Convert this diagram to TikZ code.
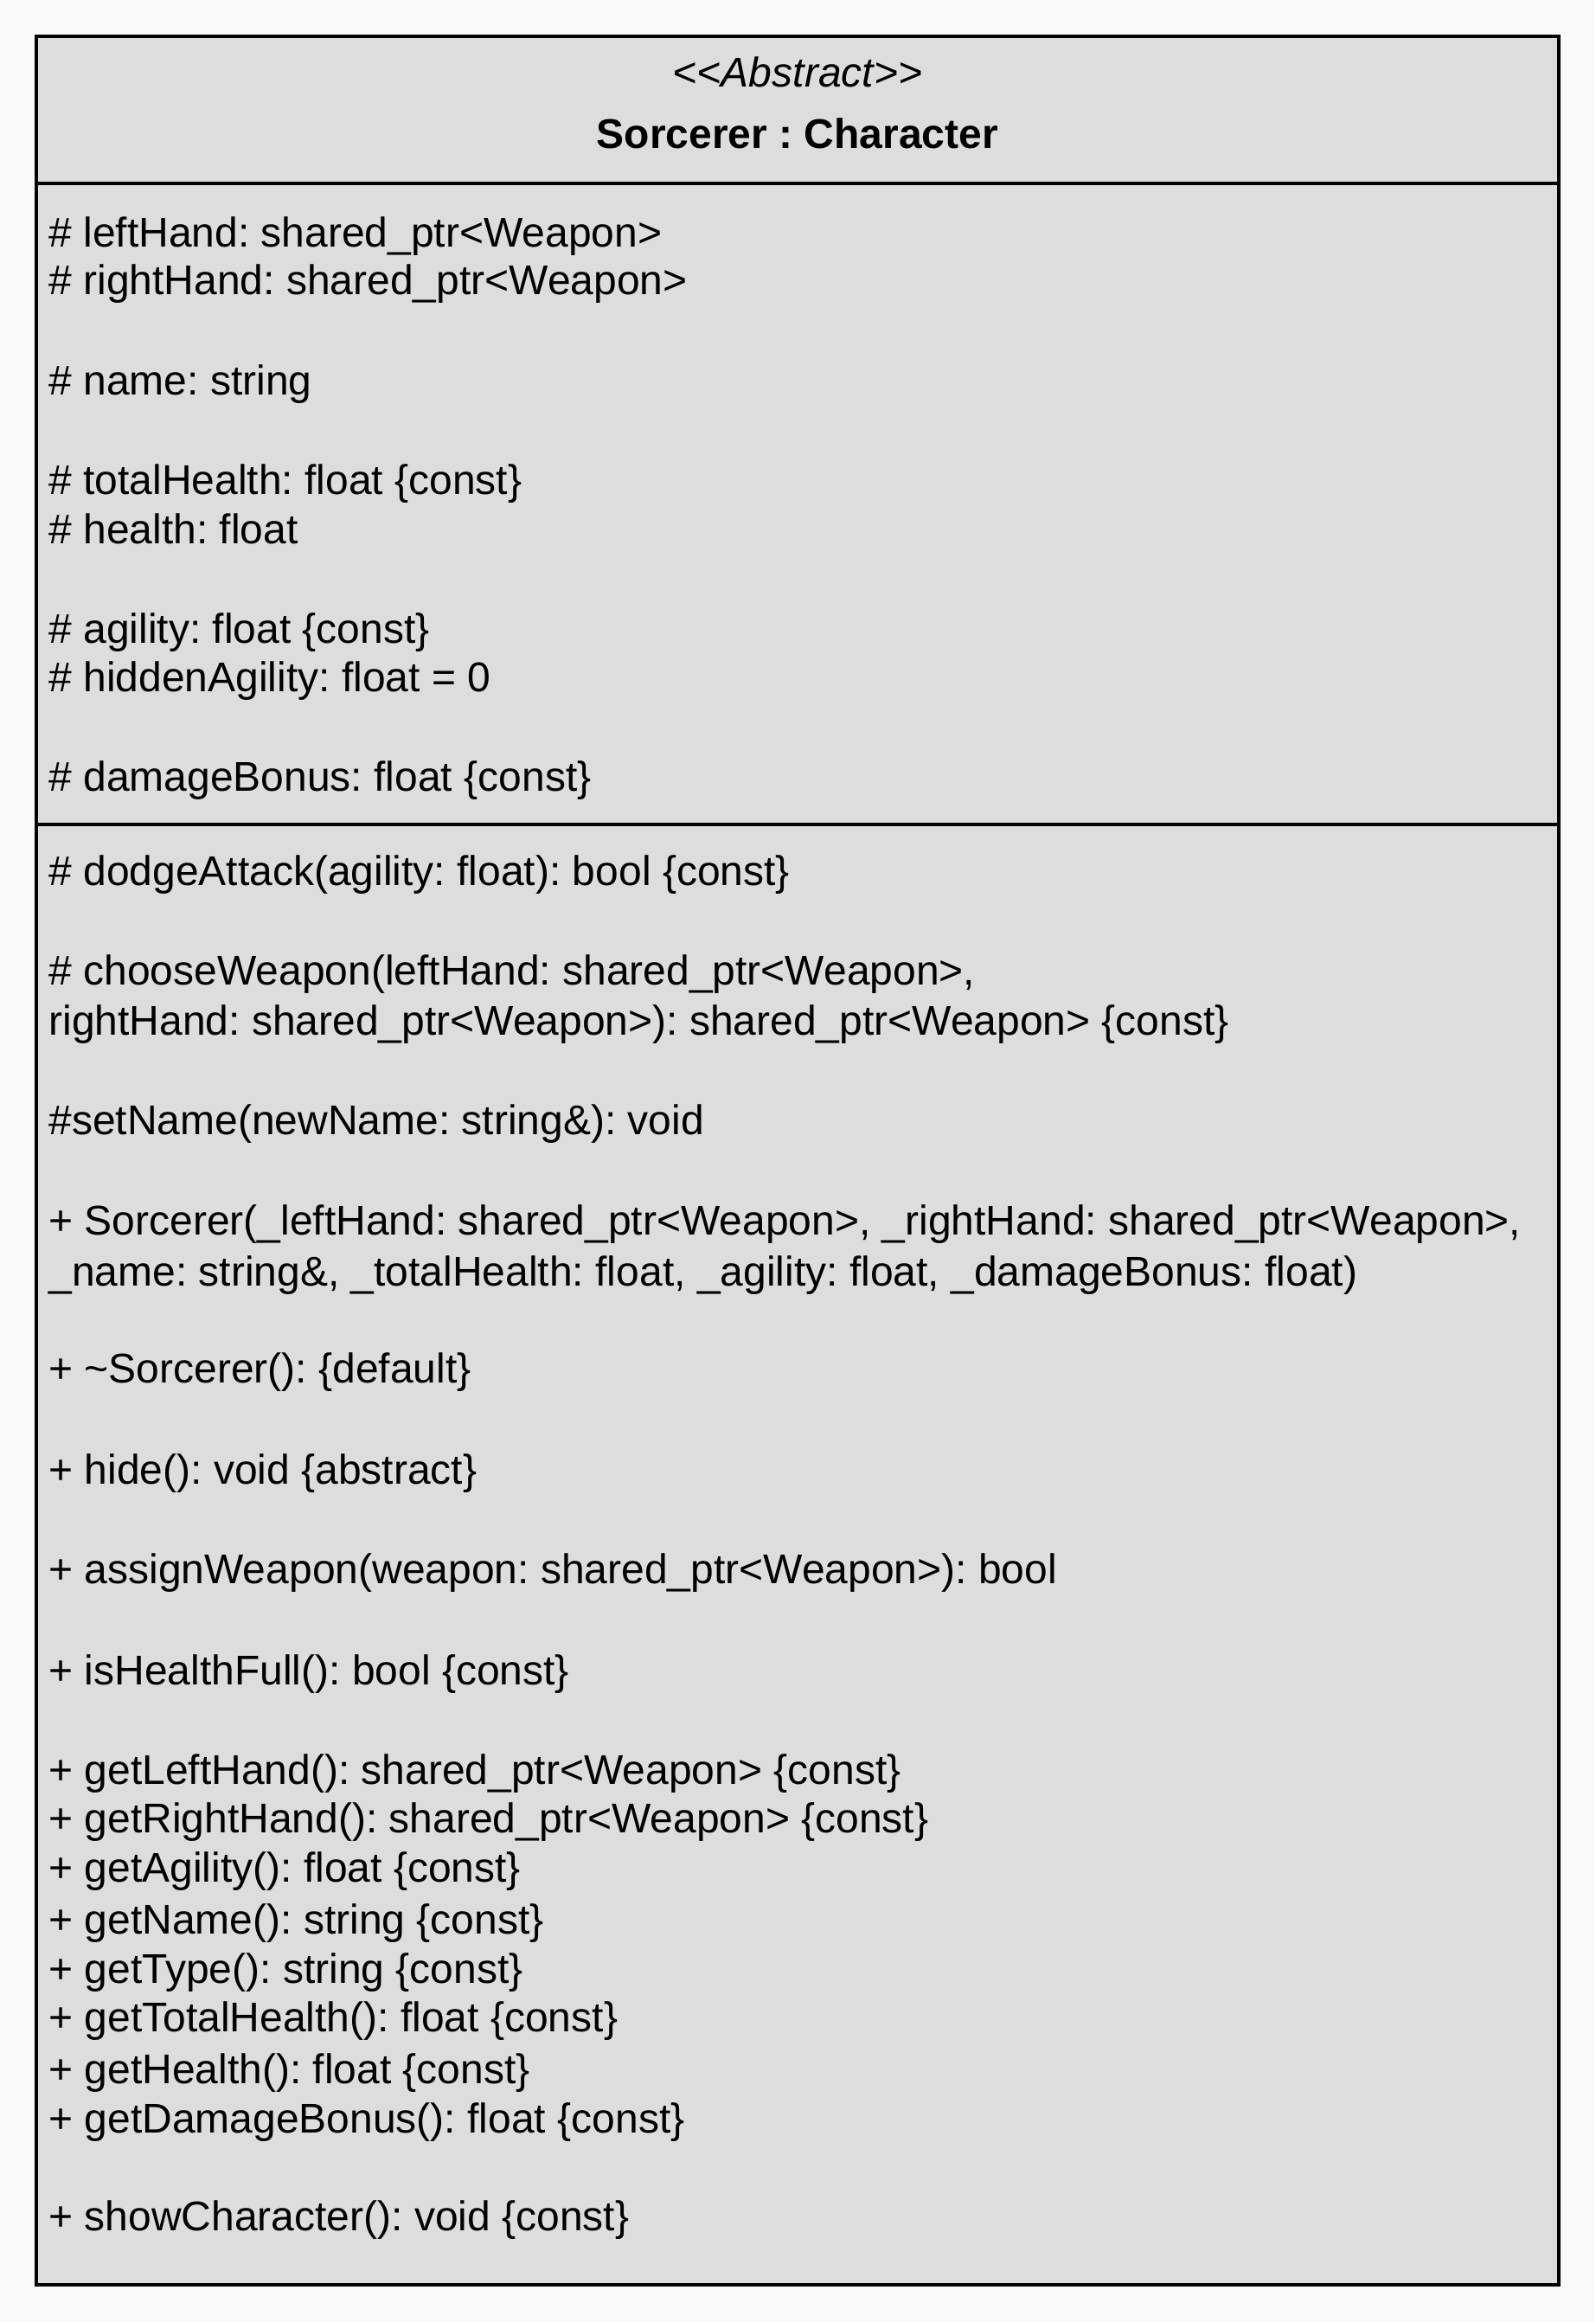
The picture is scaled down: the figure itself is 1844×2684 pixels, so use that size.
\documentclass[tikz,border=0pt]{standalone}
\usepackage{fontspec}
\setmainfont{Liberation Sans}[Ligatures=TeXOff]
\frenchspacing
\definecolor{pagebg}{HTML}{F9F9F9}
\definecolor{boxfill}{HTML}{DDDDDD}
\tikzset{
  txt/.style={anchor=base west, inner sep=0pt, font=\fontsize{24pt}{27pt}\selectfont},
  head/.style={anchor=base, inner sep=0pt, font=\fontsize{24pt}{27pt}\selectfont},
  frame/.style={draw=black, line width=1.75pt},
}
\begin{document}
\frenchspacing
\begin{tikzpicture}[x=0.5pt,y=-0.5pt]
\fill[pagebg] (0,0) rectangle (1844,2684);
\useasboundingbox (0,0) rectangle (1844,2684);
% class box
\filldraw[frame, fill=boxfill] (42,42) rectangle (1802,2641);
\draw[frame] (42,212) -- (1802,212);
\draw[frame] (42,953) -- (1802,953);
% header
\node[head, font=\fontsize{24pt}{27pt}\selectfont\itshape] (stereo) at (922,100) {<<Abstract>>};
\node[head, font=\fontsize{24pt}{27pt}\selectfont\bfseries] (title) at (922,171) {Sorcerer : Character};
% attributes
\node[txt] (a1) at (56,285) {\# leftHand: shared\_ptr<Weapon>};
\node[txt] (a2) at (56,340) {\# rightHand: shared\_ptr<Weapon>};
\node[txt] (a3) at (56,456) {\# name: string};
\node[txt] (a4) at (56,571) {\# totalHealth: float \{const\}};
\node[txt] (a5) at (56,628) {\# health: float};
\node[txt] (a6) at (56,743) {\# agility: float \{const\}};
\node[txt] (a7) at (56,799) {\# hiddenAgility: float = 0};
\node[txt] (a8) at (56,914) {\# damageBonus: float \{const\}};
% methods
\node[txt] (m1) at (56,1023) {\# dodgeAttack(agility: float): bool \{const\}};
\node[txt] (m2) at (56,1138) {\# chooseWeapon(leftHand: shared\_ptr<Weapon>,};
\node[txt] (m3) at (56,1196) {rightHand: shared\_ptr<Weapon>): shared\_ptr<Weapon> \{const\}};
\node[txt] (m4) at (56,1311) {\#setName(newName: string\&): void};
\node[txt] (m5) at (56,1427) {+ Sorcerer(\_leftHand: shared\_ptr<Weapon>, \_rightHand: shared\_ptr<Weapon>,};
\node[txt] (m6) at (56,1486) {\_name: string\&, \_totalHealth: float, \_agility: float, \_damageBonus: float)};
\node[txt] (m7) at (56,1598) {+ \textasciitilde Sorcerer(): \{default\}};
\node[txt] (m8) at (56,1715) {+ hide(): void \{abstract\}};
\node[txt] (m9) at (56,1830) {+ assignWeapon(weapon: shared\_ptr<Weapon>): bool};
\node[txt] (m10) at (56,1947) {+ isHealthFull(): bool \{const\}};
\node[txt] (m11) at (56,2062) {+ getLeftHand(): shared\_ptr<Weapon> \{const\}};
\node[txt] (m12) at (56,2118) {+ getRightHand(): shared\_ptr<Weapon> \{const\}};
\node[txt] (m13) at (56,2175) {+ getAgility(): float \{const\}};
\node[txt] (m14) at (56,2235) {+ getName(): string \{const\}};
\node[txt] (m15) at (56,2292) {+ getType(): string \{const\}};
\node[txt] (m16) at (56,2348) {+ getTotalHealth(): float \{const\}};
\node[txt] (m17) at (56,2408) {+ getHealth(): float \{const\}};
\node[txt] (m18) at (56,2465) {+ getDamageBonus(): float \{const\}};
\node[txt] (m19) at (56,2578) {+ showCharacter(): void \{const\}};
\end{tikzpicture}
\end{document}
